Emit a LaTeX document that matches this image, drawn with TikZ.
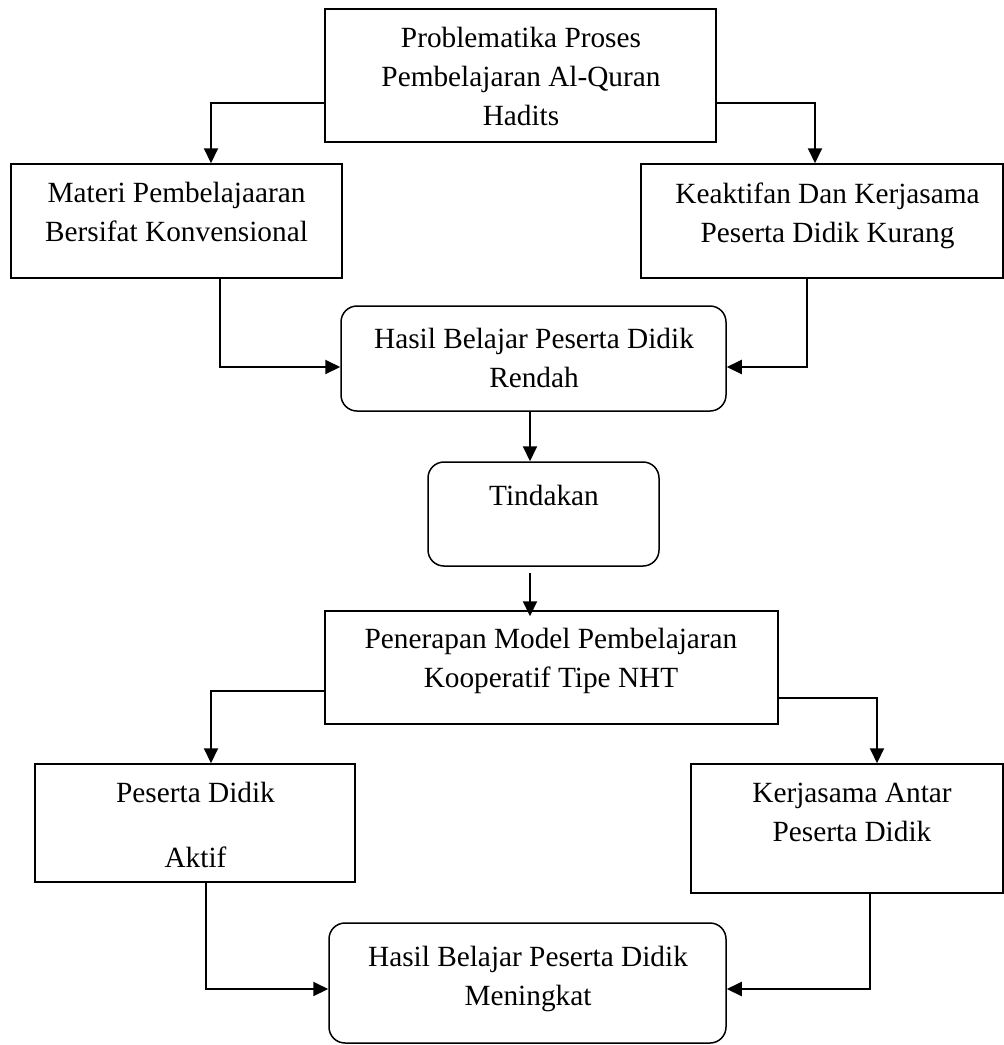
\documentclass[tikz,border=0pt]{standalone}
\usepackage{fontspec}
\setmainfont{Liberation Serif}
\usetikzlibrary{arrows.meta}
\newcommand{\lnst}{\rule{0pt}{21pt}}
\begin{document}
\begin{tikzpicture}[x=1pt,y=-1pt,
  rbox/.style={draw, line width=1.5pt, inner sep=0pt},
  rnd/.style={rbox, rounded corners=16pt},
  txt/.style={anchor=north, inner sep=0pt, align=center, font=\fontsize{29.3pt}{39pt}\selectfont},
  conn/.style={line width=2pt, -{Triangle[length=15pt,width=14pt]}}]
\useasboundingbox (0,0) rectangle (1004,1045);
% boxes
\node[rbox, minimum width=391pt, minimum height=133pt] (b1) at (520.5,75.5) {};
\node[rbox, minimum width=331pt, minimum height=114pt] (b2) at (176.5,221) {};
\node[rbox, minimum width=362pt, minimum height=114pt] (b3) at (822,221) {};
\node[rnd, minimum width=385pt, minimum height=105pt] (b4) at (533.5,358.5) {};
\node[rnd, minimum width=231pt, minimum height=104pt] (b5) at (543.5,514) {};
\node[rbox, minimum width=453pt, minimum height=113pt] (b6) at (551.5,667.5) {};
\node[rbox, minimum width=320pt, minimum height=118pt] (b7) at (195,823) {};
\node[rbox, minimum width=312pt, minimum height=129pt] (b8) at (847,828.5) {};
\node[rnd, minimum width=397pt, minimum height=120pt] (b9) at (527.5,983) {};
% texts
\node[txt] (t1) at (521,26) {\lnst Problematika Proses\\Pembelajaran Al-Quran\\Hadits};
\node[txt] (t2) at (176.5,181) {\lnst Materi Pembelajaaran\\Bersifat Konvensional};
\node[txt] (t3) at (827.5,182) {\lnst Keaktifan Dan Kerjasama\\Peserta Didik Kurang};
\node[txt] (t4) at (534,327) {\lnst Hasil Belajar Peserta Didik\\Rendah};
\node[txt] (t5) at (544,484) {\lnst Tindakan};
\node[txt] (t6) at (551,627) {\lnst Penerapan Model Pembelajaran\\Kooperatif Tipe NHT};
\node[txt] (t7) at (195.5,781) {\lnst Peserta Didik\\[26pt]Aktif};
\node[txt] (t8) at (852,781) {\lnst Kerjasama Antar\\Peserta Didik};
\node[txt] (t9) at (528,945) {\lnst Hasil Belajar Peserta Didik\\Meningkat};
% connectors
\draw[conn] ([yshift=-27.5pt]b1.west) -| ([xshift=34.5pt]b2.north);
\draw[conn] ([yshift=-27.5pt]b1.east) -| ([xshift=-7pt]b3.north);
\draw[conn] ([xshift=43.5pt]b2.south) |- ([yshift=-8.5pt]b4.west);
\draw[conn] ([xshift=-15pt]b3.south) |- ([yshift=-8.5pt]b4.east);
\draw[conn] ([xshift=-3.5pt]b4.south) -- ([xshift=-3.5pt]b4.south |- b5.north);
\draw[conn] ([xshift=-13.5pt,yshift=-6pt]b5.south) -- ([xshift=-13.5pt,yshift=-6pt]b5.south |- b6.north);
\draw[conn] ([yshift=-23.5pt]b6.west) -| ([xshift=16pt]b7.north);
\draw[conn] ([yshift=-30.5pt]b6.east) -| ([xshift=30pt]b8.north);
\draw[conn] ([xshift=11pt]b7.south) |- ([yshift=-6pt]b9.west);
\draw[conn] ([xshift=23pt]b8.south) |- ([yshift=-6pt]b9.east);
\end{tikzpicture}
\end{document}
